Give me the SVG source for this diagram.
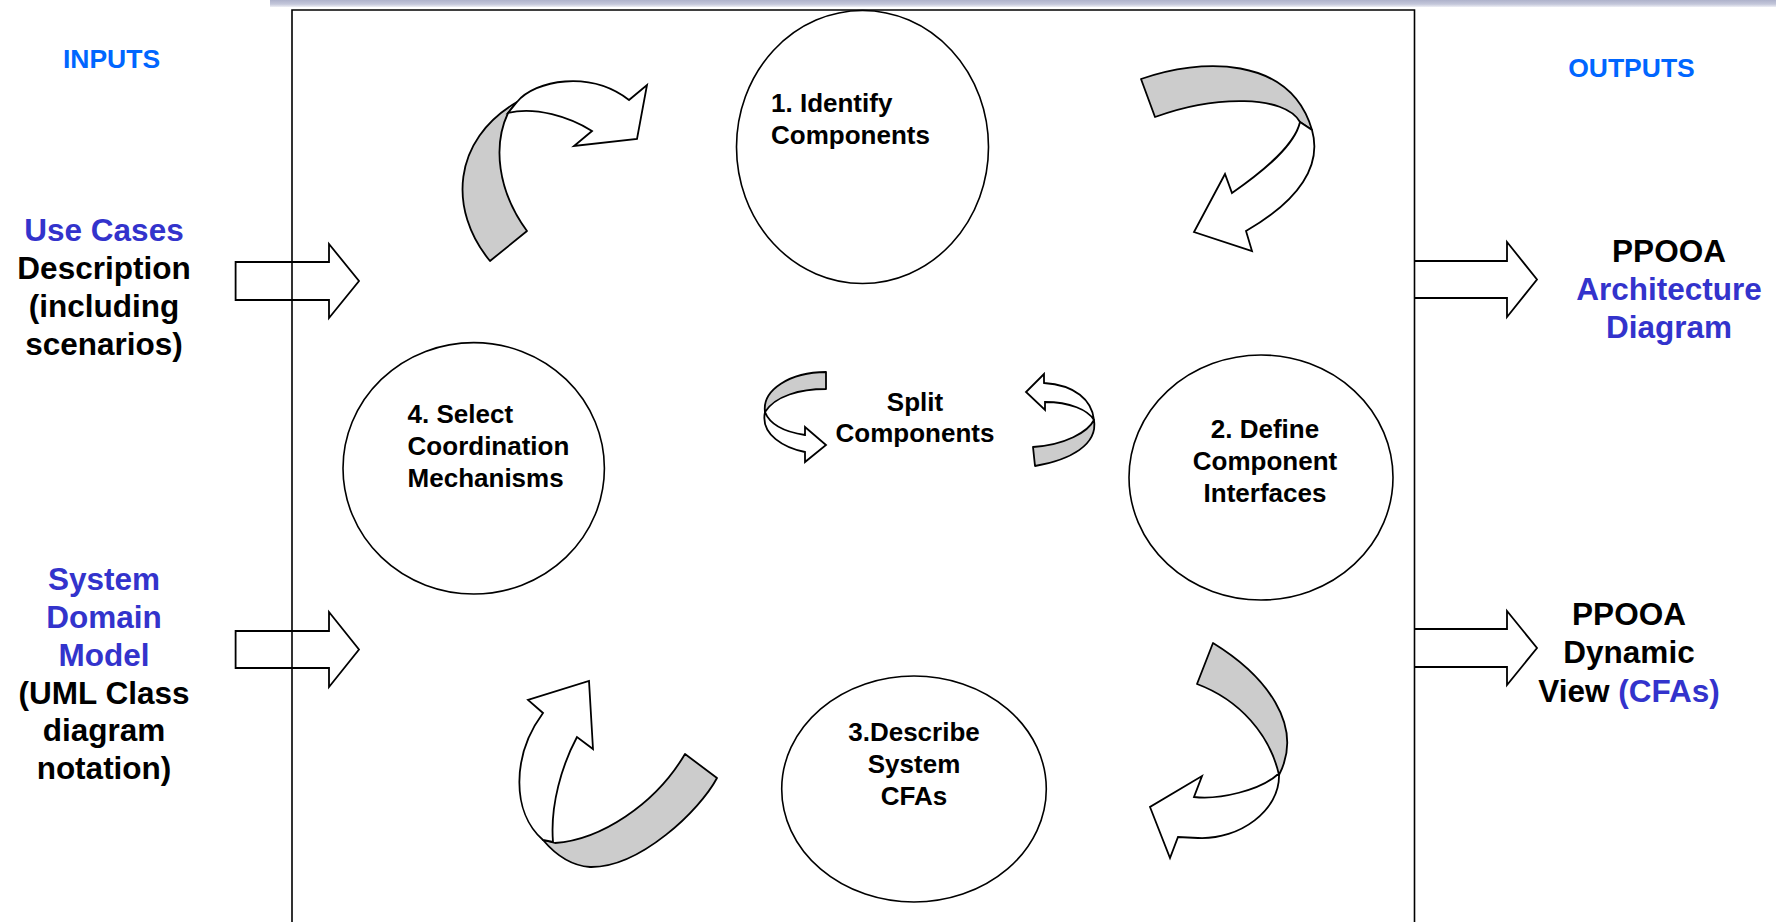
<svg xmlns="http://www.w3.org/2000/svg" width="1776" height="922" viewBox="0 0 1776 922">
<defs>
<linearGradient id="bar" x1="0" y1="0" x2="0" y2="1">
<stop offset="0" stop-color="#aeb2cb"/>
<stop offset="0.6" stop-color="#c4c7da"/>
<stop offset="1" stop-color="#eeeff5"/>
</linearGradient>
</defs>
<style>
text{font-family:"Liberation Sans",Arial,sans-serif;font-weight:bold}
.side{font-size:31.5px;fill:#000}
.blue{fill:#3333cc}
.io{font-size:26.5px;fill:#0066ff}
.ct{font-size:26px;fill:#000}
.mid{text-anchor:middle}
.circ{fill:#fff;stroke:#000;stroke-width:1.6}
.blk{fill:#fff;stroke:#000;stroke-width:1.8;stroke-linejoin:miter}
.g{fill:#cccccc;stroke:#000;stroke-width:1.8;stroke-linejoin:round}
.w{fill:#fff;stroke:#000;stroke-width:1.8;stroke-linejoin:miter}
.frame{fill:none;stroke:#000;stroke-width:1.6}
</style>
<rect x="0" y="0" width="1776" height="922" fill="#fff"/>
<rect x="270" y="0" width="1506" height="7" fill="url(#bar)"/>

<g id="connectors">
<!-- input block arrows -->
<path class="blk" d="M235.6,262 L329,262 L329,244 L359,281 L329,318 L329,300 L235.6,300 Z"/>
<path class="blk" d="M235.6,631 L329,631 L329,612 L359,649.5 L329,687 L329,668 L235.6,668 Z"/>
<!-- output block arrows -->
<path class="blk" d="M1414.5,261 L1507,261 L1507,242 L1537,279.5 L1507,317 L1507,298 L1414.5,298"/>
<path class="blk" d="M1414.5,629 L1507,629 L1507,611 L1537,648 L1507,685 L1507,667 L1414.5,667"/>
<!-- 4 -> 1 curved arrow -->
<path class="g" d="M490,261 C448,210 452,140 517,102 L508,113 C493,145 497,190 527,231 Z"/>
<path class="w" d="M517,102 C535,80 590,70 629,100 L647,85 L637,139 L574,146 L592,131 C570,117 535,106 508,113 Z"/>
<!-- 1 -> 2 curved arrow -->
<path class="g" d="M1141,79 C1200,58 1290,55 1312,130 L1300,122 C1285,95 1215,95 1155,117 Z"/>
<path class="w" d="M1312,130 C1322,165 1300,200 1246,231 L1252,251 L1194,232 L1225,174 L1232,193 C1265,170 1295,145 1300,122 Z"/>
<!-- 2 -> 3 curved arrow -->
<path class="g" d="M1213,643 C1265,675 1305,725 1279,775 C1270,735 1240,700 1197,684 Z"/>
<path class="w" d="M1279,775 C1280,810 1240,840 1198,838 L1178,837 L1170,858 L1150,807 L1202,776 L1194,797 C1220,800 1260,790 1277,775 Z"/>
<!-- 3 -> 4 curved arrow -->
<path class="g" d="M685,754 L717,778 C700,810 640,868 590,867 C575,866 560,860 543,840 L555,843 C600,840 655,805 685,754 Z"/>
<path class="w" d="M543,840 C511,812 512,755 543,713 L528,700 L589,681 L593,749 L577,737 C562,765 550,805 553,842 Z"/>
<!-- split components arrows -->
<path class="g" d="M826,372 L826,389 C800,389 775,396 765,412 C762,390 790,372 826,372 Z"/>
<path class="w" d="M765,412 C760,435 785,448 805,452 L805,462 L826,445 L805,427 L805,435 C785,432 770,425 765,412 Z"/>
<path class="g" d="M1035,466 C1070,460 1098,445 1094,420 C1088,432 1065,445 1033,447 Z"/>
<path class="w" d="M1094,420 C1092,400 1075,385 1044,383 L1044,374 L1026,392 L1045,410 L1045,402 C1070,402 1088,410 1094,420 Z"/>
</g>

<g id="frame">
<path class="frame" d="M292,930 V10 H1414.5 V930"/>
</g>

<g id="inputs-label">
<text class="io mid" x="111.5" y="68">INPUTS</text>
</g>
<g id="outputs-label">
<text class="io mid" x="1631.5" y="77">OUTPUTS</text>
</g>

<g id="input-use-cases">
<text class="side mid" x="104" y="241"><tspan class="blue">Use Cases</tspan></text>
<text class="side mid" x="104" y="279">Description</text>
<text class="side mid" x="104" y="317">(including</text>
<text class="side mid" x="104" y="355">scenarios)</text>
</g>

<g id="input-domain-model">
<text class="side mid blue" x="104" y="590">System</text>
<text class="side mid blue" x="104" y="628">Domain</text>
<text class="side mid blue" x="104" y="665.5">Model</text>
<text class="side mid" x="104" y="703.5">(UML Class</text>
<text class="side mid" x="104" y="741">diagram</text>
<text class="side mid" x="104" y="779">notation)</text>
</g>

<g id="output-architecture">
<text class="side mid" x="1669" y="262">PPOOA</text>
<text class="side mid blue" x="1669" y="300">Architecture</text>
<text class="side mid blue" x="1669" y="338">Diagram</text>
</g>

<g id="output-dynamic">
<text class="side mid" x="1629" y="625">PPOOA</text>
<text class="side mid" x="1629" y="663">Dynamic</text>
<text class="side mid" x="1629" y="701.5">View <tspan class="blue">(CFAs)</tspan></text>
</g>

<g id="step1">
<ellipse class="circ" cx="862.5" cy="147" rx="126" ry="136.5"/>
<text class="ct" x="771" y="111.5">1. Identify</text>
<text class="ct" x="771" y="143.5">Components</text>
</g>

<g id="step2">
<ellipse class="circ" cx="1261" cy="477.5" rx="132" ry="122.5"/>
<text class="ct mid" x="1265" y="438">2. Define</text>
<text class="ct mid" x="1265" y="470">Component</text>
<text class="ct mid" x="1265" y="502">Interfaces</text>
</g>

<g id="step3">
<ellipse class="circ" cx="914" cy="789" rx="132.3" ry="113"/>
<text class="ct mid" x="914" y="741">3.Describe</text>
<text class="ct mid" x="914" y="773">System</text>
<text class="ct mid" x="914" y="805">CFAs</text>
</g>

<g id="step4">
<ellipse class="circ" cx="473.7" cy="468.3" rx="130.7" ry="125.7"/>
<text class="ct" x="407.6" y="423">4. Select</text>
<text class="ct" x="407.6" y="455">Coordination</text>
<text class="ct" x="407.6" y="487">Mechanisms</text>
</g>

<g id="split-components">
<text class="ct mid" x="915" y="410.5">Split</text>
<text class="ct mid" x="915" y="441.5">Components</text>
</g>
</svg>
